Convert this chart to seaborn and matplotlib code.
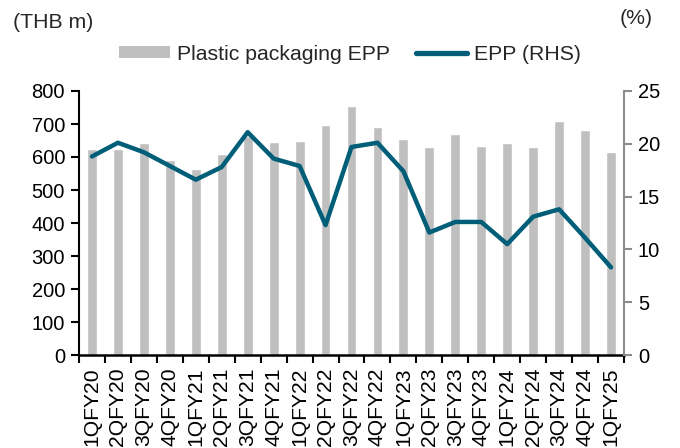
import matplotlib
matplotlib.use("Agg")
import matplotlib.pyplot as plt
from matplotlib.patches import Patch
from matplotlib.lines import Line2D
from matplotlib.ticker import FixedLocator, NullFormatter
import seaborn as sns
import pandas as pd

quarters = [
    "1QFY20", "2QFY20", "3QFY20", "4QFY20",
    "1QFY21", "2QFY21", "3QFY21", "4QFY21",
    "1QFY22", "2QFY22", "3QFY22", "4QFY22",
    "1QFY23", "2QFY23", "3QFY23", "4QFY23",
    "1QFY24", "2QFY24", "3QFY24", "4QFY24",
    "1QFY25",
]
epp_thb_m = [624, 624, 641, 590, 565, 610, 665, 645, 648, 696, 754, 690,
             655, 630, 670, 633, 641, 630, 710, 682, 616]
epp_pct = [18.8, 20.1, 19.2, 17.9, 16.6, 17.8, 21.1, 18.6, 17.9, 12.3, 19.7, 20.1,
           17.4, 11.6, 12.6, 12.6, 10.5, 13.1, 13.8, 11.1, 8.3]

BAR_COLOR = "#BFBFBF"
LINE_COLOR = "#005E78"
FS = 14.5
FS_TEXT = 15.3

sns.set_theme(style="white")
plt.rcParams["font.family"] = ["Liberation Sans", "DejaVu Sans"]

df = pd.DataFrame({"quarter": quarters, "value": epp_thb_m, "pct": epp_pct})

fig = plt.figure(figsize=(6.8, 4.48), dpi=100)
ax = fig.add_axes([79 / 680, 1 - 355 / 448, (624 - 79) / 680, (355 - 91) / 448])

sns.barplot(data=df, x="quarter", y="value", color=BAR_COLOR, width=0.38,
            saturation=1, ax=ax, zorder=1)
ax.set_xlim(-0.5, len(quarters) - 0.5)
ax.set_ylim(0, 800)
ax.set_yticks(range(0, 801, 100))
ax.set_xlabel("")
ax.set_ylabel("")

ax2 = ax.twinx()
sns.lineplot(data=df, x="quarter", y="pct", color=LINE_COLOR, linewidth=3.2,
             ax=ax2, sort=False)
ax2.set_xlim(-0.5, len(quarters) - 0.5)
ax2.set_ylim(0, 25)
ax2.set_yticks(range(0, 26, 5))
ax2.set_ylabel("")
ax2.set_xlabel("")

# spines
ax.spines["top"].set_visible(False)
ax2.spines["top"].set_visible(False)
ax.spines["right"].set_visible(False)
ax2.spines["left"].set_visible(False)
ax2.spines["bottom"].set_visible(False)
ax.spines["left"].set_color("black")
ax.spines["left"].set_linewidth(1.5)
ax.spines["bottom"].set_color("black")
ax.spines["bottom"].set_linewidth(1.8)
ax2.spines["right"].set_color("#8C8C8C")
ax2.spines["right"].set_linewidth(1.5)

# ticks
ax.tick_params(axis="y", left=True, direction="out", length=6, width=1.5,
               color="black", labelsize=FS, labelcolor="black", pad=4)
ax2.tick_params(axis="y", right=True, direction="out", length=6, width=1.5,
                color="#8C8C8C", labelsize=FS, labelcolor="black", pad=4)
ax.tick_params(axis="x", which="major", length=0, labelsize=15.2,
               labelrotation=90, labelcolor="black", pad=9)
ax.xaxis.set_minor_locator(FixedLocator([i - 0.5 for i in range(len(quarters) + 1)]))
ax.xaxis.set_minor_formatter(NullFormatter())
ax.tick_params(axis="x", which="minor", bottom=True, direction="out",
               length=6, width=1.5, color="black")
ax2.tick_params(axis="x", bottom=False, labelbottom=False)

ax.set_zorder(ax2.get_zorder() - 1)
ax.patch.set_visible(False)

# unit labels
fig.text(13 / 680, 1 - 22 / 448, "(THB m)", fontsize=FS_TEXT, ha="left", va="center")
fig.text(636 / 680, 1 - 18 / 448, "(%)", fontsize=FS_TEXT, ha="center", va="center")

handles = [Patch(facecolor=BAR_COLOR, edgecolor="none"),
           Line2D([0], [0], color=LINE_COLOR, linewidth=3.8)]
fig.legend(handles, ["Plastic packaging EPP", "EPP (RHS)"],
           loc="center left", bbox_to_anchor=(119 / 680, 1 - 54 / 448),
           ncol=2, frameon=False, fontsize=FS_TEXT, handlelength=2.4,
           handleheight=0.47, handletextpad=0.33, columnspacing=1.22,
           borderpad=0, borderaxespad=0)

fig.savefig("out.png", dpi=100)
